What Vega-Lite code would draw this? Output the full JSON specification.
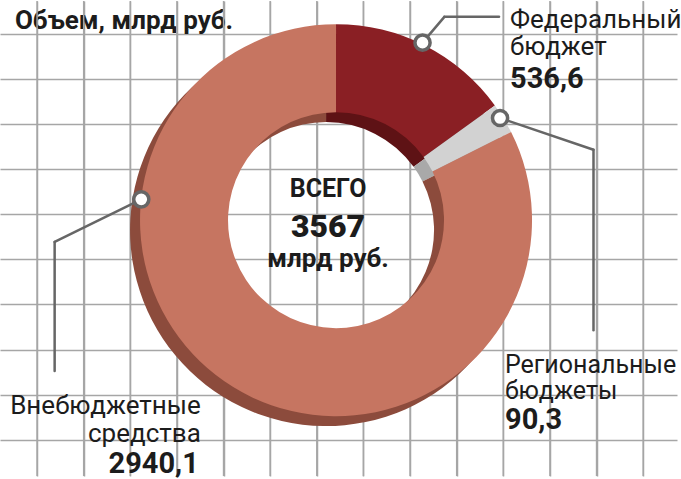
{
  "$schema": "https://vega.github.io/schema/vega-lite/v6.json",
  "width": 681,
  "height": 479,
  "autosize": {"type": "fit", "contains": "padding"},
  "padding": 0,
  "background": "#ffffff",
  "config": {
    "view": {"stroke": null},
    "locale": {"number": {"decimal": ",", "thousands": "\u00a0", "grouping": [3], "currency": ["", ""]}},
    "text": {"font": "Roboto", "color": "#1c1c1c"},
    "rule": {"color": "#a6a6a6", "strokeWidth": 1.5},
    "axis": {"grid": true, "labels": false, "ticks": false, "domain": false, "gridColor": "#a6a6a6", "gridWidth": 1.5, "gridOpacity": 1, "titleFontSize": 0, "titlePadding": 0, "labelPadding": 0}
  },
  "data": {
    "values": [
      {"cat": "Федеральный бюджет", "value": 536.6, "ord": 1},
      {"cat": "Региональные бюджеты", "value": 90.3, "ord": 2},
      {"cat": "Внебюджетные средства", "value": 2940.1, "ord": 3}
    ]
  },
  "resolve": {"scale": {"color": "independent"}},
  "layer": [
    {
      "data": {"values": [{"t": "Объем, млрд руб."}]},
      "mark": {"type": "text", "align": "left", "baseline": "alphabetic", "fontSize": 26, "fontWeight": "bold"},
      "encoding": {
        "text": {"field": "t"},
        "x": {"datum": -0.475, "type": "quantitative", "scale": {"domain": [-0.795, 13.725], "nice": false, "zero": false}, "axis": {"values": [0,1,2,3,4,5,6,7,8,9,10,11,12,13], "title": null}},
        "y": {"datum": 9.11, "type": "quantitative", "scale": {"domain": [-0.802, 9.725], "nice": false, "zero": false}, "axis": {"values": [0,1,2,3,4,5,6,7,8,9], "title": null}}
      }
    },
    {"transform": [{"filter": "datum.ord === 1"}], "mark": "rule", "encoding": {"x": {"datum": 0, "type": "quantitative"}}},
    {"transform": [{"filter": "datum.ord === 1"}], "mark": "rule", "encoding": {"x": {"datum": 1, "type": "quantitative"}}},
    {"transform": [{"filter": "datum.ord === 1"}], "mark": "rule", "encoding": {"x": {"datum": 2, "type": "quantitative"}}},
    {"transform": [{"filter": "datum.ord === 1"}], "mark": "rule", "encoding": {"x": {"datum": 3, "type": "quantitative"}}},
    {"transform": [{"filter": "datum.ord === 1"}], "mark": "rule", "encoding": {"x": {"datum": 4, "type": "quantitative"}}},
    {"transform": [{"filter": "datum.ord === 1"}], "mark": "rule", "encoding": {"x": {"datum": 5, "type": "quantitative"}}},
    {"transform": [{"filter": "datum.ord === 1"}], "mark": "rule", "encoding": {"x": {"datum": 6, "type": "quantitative"}}},
    {"transform": [{"filter": "datum.ord === 1"}], "mark": "rule", "encoding": {"x": {"datum": 7, "type": "quantitative"}}},
    {"transform": [{"filter": "datum.ord === 1"}], "mark": "rule", "encoding": {"x": {"datum": 8, "type": "quantitative"}}},
    {"transform": [{"filter": "datum.ord === 1"}], "mark": "rule", "encoding": {"x": {"datum": 9, "type": "quantitative"}}},
    {"transform": [{"filter": "datum.ord === 1"}], "mark": "rule", "encoding": {"x": {"datum": 10, "type": "quantitative"}}},
    {"transform": [{"filter": "datum.ord === 1"}], "mark": "rule", "encoding": {"x": {"datum": 11, "type": "quantitative"}}},
    {"transform": [{"filter": "datum.ord === 1"}], "mark": "rule", "encoding": {"x": {"datum": 12, "type": "quantitative"}}},
    {"transform": [{"filter": "datum.ord === 1"}], "mark": "rule", "encoding": {"x": {"datum": 13, "type": "quantitative"}}},
    {
      "mark": {"type": "arc", "innerRadius": 108, "outerRadius": 196},
      "encoding": {
        "theta": {"field": "value", "type": "quantitative", "stack": true},
        "order": {"field": "ord", "type": "quantitative"},
        "color": {"field": "cat", "type": "nominal", "legend": null,
          "scale": {"domain": ["Федеральный бюджет", "Региональные бюджеты", "Внебюджетные средства"], "range": ["#5e1215", "#a9a9a9", "#8c4b3c"]}},
        "x": {"datum": 6.198, "type": "quantitative"},
        "y": {"datum": 4.648, "type": "quantitative"}
      }
    },
    {
      "mark": {"type": "arc", "innerRadius": 108, "outerRadius": 196},
      "encoding": {
        "theta": {"field": "value", "type": "quantitative", "stack": true},
        "order": {"field": "ord", "type": "quantitative"},
        "color": {"field": "cat", "type": "nominal", "legend": null,
          "scale": {"domain": ["Федеральный бюджет", "Региональные бюджеты", "Внебюджетные средства"], "range": ["#8a1f24", "#d2d2d2", "#c67561"]}},
        "x": {"datum": 6.412, "type": "quantitative"},
        "y": {"datum": 4.868, "type": "quantitative"}
      }
    },
    {
      "transform": [{"filter": "datum.ord === 1"}],
      "mark": {"type": "rule", "color": "#666666", "strokeWidth": 2.5, "strokeCap": "round"},
      "encoding": {
        "x": {"datum": 8.267, "type": "quantitative"},
        "y": {"datum": 8.802, "type": "quantitative"},
        "x2": {"datum": 8.736},
        "y2": {"datum": 9.374}
      }
    },
    {
      "transform": [{"filter": "datum.ord === 1"}],
      "mark": {"type": "rule", "color": "#666666", "strokeWidth": 2.5, "strokeCap": "round"},
      "encoding": {
        "x": {"datum": 8.736, "type": "quantitative"},
        "y": {"datum": 9.374, "type": "quantitative"},
        "x2": {"datum": 9.908},
        "y2": {"datum": 9.374}
      }
    },
    {
      "transform": [{"filter": "datum.ord === 2"}],
      "mark": {"type": "rule", "color": "#666666", "strokeWidth": 2.5, "strokeCap": "round"},
      "encoding": {
        "x": {"datum": 9.930, "type": "quantitative"},
        "y": {"datum": 7.132, "type": "quantitative"},
        "x2": {"datum": 11.934},
        "y2": {"datum": 6.429}
      }
    },
    {
      "transform": [{"filter": "datum.ord === 2"}],
      "mark": {"type": "rule", "color": "#666666", "strokeWidth": 2.5, "strokeCap": "round"},
      "encoding": {
        "x": {"datum": 11.934, "type": "quantitative"},
        "y": {"datum": 6.429, "type": "quantitative"},
        "x2": {"datum": 11.934},
        "y2": {"datum": 2.429}
      }
    },
    {
      "transform": [{"filter": "datum.ord === 3"}],
      "mark": {"type": "rule", "color": "#666666", "strokeWidth": 2.5, "strokeCap": "round"},
      "encoding": {
        "x": {"datum": 2.235, "type": "quantitative"},
        "y": {"datum": 5.330, "type": "quantitative"},
        "x2": {"datum": 0.377},
        "y2": {"datum": 4.385}
      }
    },
    {
      "transform": [{"filter": "datum.ord === 3"}],
      "mark": {"type": "rule", "color": "#666666", "strokeWidth": 2.5, "strokeCap": "round"},
      "encoding": {
        "x": {"datum": 0.377, "type": "quantitative"},
        "y": {"datum": 4.385, "type": "quantitative"},
        "x2": {"datum": 0.377},
        "y2": {"datum": 1.527}
      }
    },
    {
      "transform": [{"filter": "datum.ord === 1"}],
      "mark": {"type": "point", "shape": "circle", "filled": true, "fill": "#ffffff", "stroke": "#666666", "strokeWidth": 3.5, "size": 230, "opacity": 1},
      "encoding": {
        "x": {"datum": 8.267, "type": "quantitative"},
        "y": {"datum": 8.802, "type": "quantitative"}
      }
    },
    {
      "transform": [{"filter": "datum.ord === 2"}],
      "mark": {"type": "point", "shape": "circle", "filled": true, "fill": "#ffffff", "stroke": "#666666", "strokeWidth": 3.5, "size": 230, "opacity": 1},
      "encoding": {
        "x": {"datum": 9.930, "type": "quantitative"},
        "y": {"datum": 7.132, "type": "quantitative"}
      }
    },
    {
      "transform": [{"filter": "datum.ord === 3"}],
      "mark": {"type": "point", "shape": "circle", "filled": true, "fill": "#ffffff", "stroke": "#666666", "strokeWidth": 3.5, "size": 230, "opacity": 1},
      "encoding": {
        "x": {"datum": 2.235, "type": "quantitative"},
        "y": {"datum": 5.330, "type": "quantitative"}
      }
    },
    {
      "transform": [{"filter": "datum.ord === 1"}],
      "mark": {"type": "text", "align": "left", "baseline": "alphabetic", "fontSize": 26, "lineBreak": " ", "lineHeight": 27},
      "encoding": {
        "text": {"field": "cat"},
        "x": {"datum": 10.143, "type": "quantitative"},
        "y": {"datum": 9.132, "type": "quantitative"}
      }
    },
    {
      "transform": [{"filter": "datum.ord === 2"}],
      "mark": {"type": "text", "align": "left", "baseline": "alphabetic", "fontSize": 25, "lineBreak": " ", "lineHeight": 26},
      "encoding": {
        "text": {"field": "cat"},
        "x": {"datum": 10.036, "type": "quantitative"},
        "y": {"datum": 1.484, "type": "quantitative"}
      }
    },
    {
      "transform": [{"filter": "datum.ord === 3"}],
      "mark": {"type": "text", "align": "right", "baseline": "alphabetic", "fontSize": 26, "lineBreak": " ", "lineHeight": 28},
      "encoding": {
        "text": {"field": "cat"},
        "x": {"datum": 3.512, "type": "quantitative"},
        "y": {"datum": 0.582, "type": "quantitative"}
      }
    },
    {
      "transform": [{"filter": "datum.ord === 1"}],
      "mark": {"type": "text", "align": "left", "baseline": "alphabetic", "fontSize": 29, "fontWeight": "bold"},
      "encoding": {
        "text": {"field": "value", "type": "quantitative", "format": ".1f"},
        "x": {"datum": 10.143, "type": "quantitative"},
        "y": {"datum": 7.791, "type": "quantitative"}
      }
    },
    {
      "transform": [{"filter": "datum.ord === 2"}],
      "mark": {"type": "text", "align": "left", "baseline": "alphabetic", "fontSize": 29, "fontWeight": "bold"},
      "encoding": {
        "text": {"field": "value", "type": "quantitative", "format": ".1f"},
        "x": {"datum": 10.036, "type": "quantitative"},
        "y": {"datum": 0.231, "type": "quantitative"}
      }
    },
    {
      "transform": [{"filter": "datum.ord === 3"}],
      "mark": {"type": "text", "align": "right", "baseline": "alphabetic", "fontSize": 29, "fontWeight": "bold"},
      "encoding": {
        "text": {"field": "value", "type": "quantitative", "format": ".1f"},
        "x": {"datum": 3.470, "type": "quantitative"},
        "y": {"datum": -0.736, "type": "quantitative"}
      }
    },
    {
      "transform": [{"aggregate": [{"op": "sum", "field": "value", "as": "total"}]}],
      "mark": {"type": "text", "align": "center", "baseline": "alphabetic", "fontSize": 32, "fontWeight": 900},
      "encoding": {
        "text": {"field": "total", "type": "quantitative", "format": ".0f"},
        "x": {"datum": 6.241, "type": "quantitative"},
        "y": {"datum": 4.495, "type": "quantitative"}
      }
    },
    {
      "data": {"values": [{"t": "ВСЕГО"}]},
      "mark": {"type": "text", "align": "center", "baseline": "alphabetic", "fontSize": 25, "fontWeight": "bold"},
      "encoding": {
        "text": {"field": "t"},
        "x": {"datum": 6.241, "type": "quantitative"},
        "y": {"datum": 5.374, "type": "quantitative"}
      }
    },
    {
      "data": {"values": [{"t": "млрд руб."}]},
      "mark": {"type": "text", "align": "center", "baseline": "alphabetic", "fontSize": 26, "fontWeight": "bold"},
      "encoding": {
        "text": {"field": "t"},
        "x": {"datum": 6.241, "type": "quantitative"},
        "y": {"datum": 3.835, "type": "quantitative"}
      }
    }
  ]
}
